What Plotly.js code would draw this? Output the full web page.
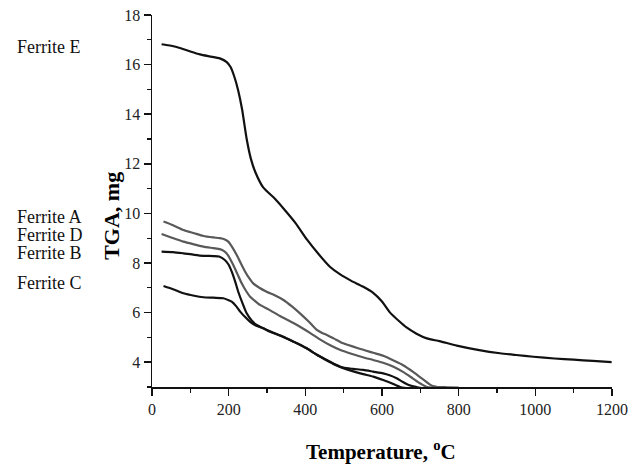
<!DOCTYPE html>
<html>
<head>
<meta charset="utf-8">
<script src="https://cdn.plot.ly/plotly-3.0.1.min.js"></script>
<style>html,body{margin:0;padding:0;background:#fff;}#chart{width:638px;height:466px;}</style>
</head>
<body>
<div id="chart"></div>
<script>
// Ferrite E
const tempE = [25, 50, 75, 100, 125, 150, 177, 195, 205, 215, 225, 235, 247, 258, 270, 290, 320, 343, 375, 404, 435, 464, 490, 520, 550, 577, 600, 621, 645, 664, 690, 717, 750, 795, 850, 908, 950, 995, 1050, 1100, 1150, 1199];
const tgaE = [16.82, 16.76, 16.66, 16.53, 16.41, 16.33, 16.25, 16.1, 15.9, 15.5, 14.95, 14.2, 13.0, 12.2, 11.65, 11.05, 10.6, 10.2, 9.6, 8.95, 8.35, 7.85, 7.55, 7.28, 7.05, 6.8, 6.45, 6.0, 5.65, 5.4, 5.15, 4.96, 4.85, 4.67, 4.5, 4.36, 4.29, 4.22, 4.15, 4.1, 4.05, 4.0];
// Ferrite A
const tempA = [30, 55, 82, 110, 134, 160, 177, 190, 199, 210, 221, 232, 243, 254, 264, 280, 299, 320, 343, 365, 386, 410, 430, 445, 456, 475, 499, 540, 577, 605, 630, 655, 682, 708, 730, 745, 770, 800];
const tgaA = [9.67, 9.52, 9.33, 9.2, 9.09, 9.03, 9.0, 8.95, 8.86, 8.62, 8.32, 7.98, 7.65, 7.38, 7.18, 7.0, 6.84, 6.7, 6.51, 6.25, 5.97, 5.62, 5.3, 5.17, 5.1, 4.95, 4.76, 4.55, 4.38, 4.25, 4.07, 3.88, 3.6, 3.3, 3.05, 3.0, 2.99, 2.98];
// Ferrite D
const tempD = [25, 50, 82, 110, 134, 160, 177, 188, 198, 212, 223, 234, 245, 256, 268, 282, 305, 334, 360, 386, 410, 438, 465, 490, 520, 550, 577, 603, 630, 656, 680, 699, 717, 730];
const tgaD = [9.17, 9.03, 8.86, 8.75, 8.66, 8.6, 8.56, 8.48, 8.32, 7.92, 7.55, 7.18, 6.88, 6.64, 6.48, 6.31, 6.12, 5.86, 5.65, 5.43, 5.2, 4.92, 4.68, 4.5, 4.34, 4.2, 4.09, 3.98, 3.82, 3.6, 3.35, 3.15, 3.0, 2.97];
// Ferrite B
const tempB = [25, 55, 82, 110, 134, 160, 175, 190, 200, 208, 217, 225, 236, 247, 260, 273, 290, 308, 330, 351, 380, 404, 430, 456, 480, 499, 525, 551, 577, 603, 620, 638, 655, 670, 690, 705];
const tgaB = [8.46, 8.44, 8.39, 8.33, 8.29, 8.28, 8.26, 8.12, 7.93, 7.65, 7.25, 6.84, 6.38, 5.97, 5.68, 5.5, 5.37, 5.23, 5.1, 4.96, 4.75, 4.56, 4.3, 4.09, 3.9, 3.78, 3.73, 3.69, 3.62, 3.55, 3.47, 3.35, 3.2, 3.08, 3.0, 2.95];
// Ferrite C
const tempC = [30, 55, 82, 110, 134, 160, 186, 200, 208, 220, 230, 243, 256, 272, 290, 315, 343, 370, 404, 430, 456, 480, 499, 525, 551, 577, 603, 625, 647, 665];
const tgaC = [7.07, 6.94, 6.78, 6.68, 6.62, 6.6, 6.58, 6.5, 6.44, 6.25, 6.04, 5.82, 5.63, 5.47, 5.37, 5.2, 5.03, 4.82, 4.55, 4.3, 4.07, 3.88, 3.76, 3.63, 3.52, 3.42, 3.28, 3.15, 3.0, 2.95];

const seriesNames = ["Ferrite E", "Ferrite A", "Ferrite D", "Ferrite B", "Ferrite C"];
const xTickVals = [0, 200, 400, 600, 800, 1000, 1200];
const yTickVals = [4, 6, 8, 10, 12, 14, 16, 18];

const BLACK = '#111111', GRAY = '#595959';
function tr(x, y, name, color) {
  return {x: x, y: y, name: name, type: 'scatter', mode: 'lines',
          line: {color: color, width: 2.2, shape: 'spline', smoothing: 0.6},
          hoverinfo: 'skip'};
}
const data = [
  tr(tempE, tgaE, seriesNames[0], BLACK),
  tr(tempA, tgaA, seriesNames[1], GRAY),
  tr(tempD, tgaD, seriesNames[2], GRAY),
  tr(tempB, tgaB, seriesNames[3], BLACK),
  tr(tempC, tgaC, seriesNames[4], BLACK)
];

const serif = 'Liberation Serif, Times New Roman, serif';
const labelY = [0.914, 0.458, 0.408, 0.360, 0.280];
const annotations = seriesNames.map((n, i) => ({
  text: n, xref: 'paper', yref: 'paper', x: -0.298, y: labelY[i],
  xanchor: 'left', yanchor: 'middle', showarrow: false,
  font: {family: serif, size: 18, color: '#111'}
}));
annotations.push({
  text: '<b>TGA, mg</b>', xref: 'paper', yref: 'paper', x: -0.087, y: 0.46,
  xanchor: 'center', yanchor: 'middle', textangle: -90, showarrow: false,
  font: {family: serif, size: 22, color: '#000'}
});
annotations.push({
  text: '<b>Temperature, <sup>o</sup>C</b>', xref: 'paper', yref: 'paper', x: 0.497, y: -0.17,
  xanchor: 'center', yanchor: 'middle', showarrow: false,
  font: {family: serif, size: 21, color: '#000'}
});

const layout = {
  width: 638, height: 466,
  margin: {l: 152, r: 26, t: 15, b: 79},
  paper_bgcolor: '#fff', plot_bgcolor: '#fff',
  showlegend: false,
  font: {family: serif, color: '#111'},
  xaxis: {
    range: [0, 1200], tickvals: xTickVals, ticktext: xTickVals.map(String),
    showgrid: false, zeroline: false, showline: true, linecolor: '#111', linewidth: 1.5,
    ticks: 'outside', ticklen: 7, tickwidth: 1.5, tickcolor: '#111',
    minor: {dtick: 100, tick0: 0, ticks: 'outside', ticklen: 4, tickwidth: 1.3, tickcolor: '#111', showgrid: false},
    tickfont: {family: serif, size: 16, color: '#222'}
  },
  yaxis: {
    range: [3, 18], tickvals: yTickVals, ticktext: yTickVals.map(String),
    showgrid: false, zeroline: false, showline: true, linecolor: '#111', linewidth: 1.5,
    ticks: 'outside', ticklen: 7, tickwidth: 1.5, tickcolor: '#111',
    minor: {dtick: 1, tick0: 3, ticks: 'outside', ticklen: 4, tickwidth: 1.3, tickcolor: '#111', showgrid: false},
    tickfont: {family: serif, size: 16, color: '#222'}
  },
  annotations: annotations
};

Plotly.newPlot('chart', data, layout, {displayModeBar: false, staticPlot: true});
</script>
</body>
</html>
